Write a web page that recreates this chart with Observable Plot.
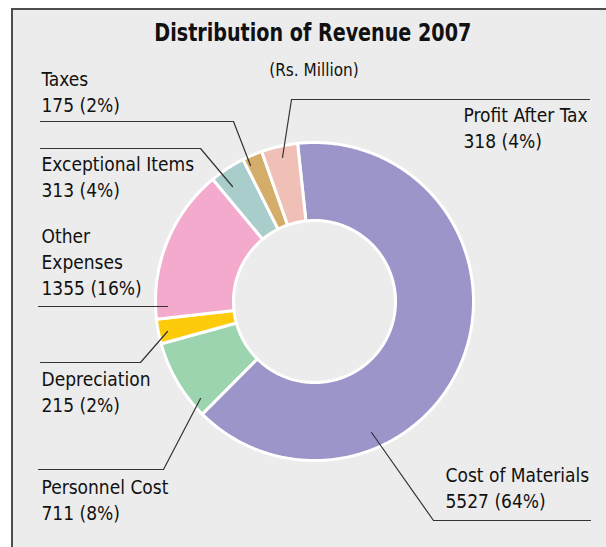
<!DOCTYPE html>
<html><head><meta charset="utf-8">
<script src="https://cdn.jsdelivr.net/npm/d3@7"></script>
<script src="https://cdn.jsdelivr.net/npm/@observablehq/plot@0.6"></script>
<style>
body{margin:0;background:#fff;width:606px;height:547px;overflow:hidden;position:relative;font-family:"Liberation Sans Narrow","Arial Narrow","DejaVu Sans Condensed",sans-serif;}
#frame{position:absolute;left:11px;top:8px;width:700px;height:700px;border:2px solid #4d4d4d;background:#ececec;box-sizing:border-box;}
#titlewrap{position:absolute;left:0;width:626px;top:21px;text-align:center;}
#title{display:inline-block;font-family:"DejaVu Sans Condensed","DejaVu Sans",sans-serif;font-weight:bold;font-size:24px;color:#111;line-height:1;transform-origin:50% 50%;}
#subtitle{position:absolute;left:0;width:628px;top:62px;text-align:center;font-size:17px;color:#111;line-height:1;}
#chart{position:absolute;left:0;top:0;}
</style>
</head><body>
<div id="frame"></div>
<div id="titlewrap"><span id="title">Distribution of Revenue 2007</span></div>
<div id="subtitle">(Rs. Million)</div>
<div id="chart"></div>
<script>
// ---- data ----
const categories = ["Cost of Materials","Personnel Cost","Depreciation","Other Expenses","Exceptional Items","Taxes","Profit After Tax"];
const values = [5527, 711, 215, 1355, 313, 175, 318];
const percents = [64, 8, 2, 16, 4, 2, 4];
const labelLines = ["Cost of Materials","Personnel Cost","Depreciation","Other\nExpenses","Exceptional Items","Taxes","Profit After Tax"];
const colors = ["#9c95c9","#9dd4b0","#fdcb0a","#f4aacd","#a8cdca","#d5ad6a","#f0c0b6"];

// ---- layout (pixel space) ----
const cx = 314, cy = 301, R = 159, r0 = 81;
const startDeg = -6.1;
// label anchor (left, top of first line) in pixels
const labelPos = {
  "Cost of Materials": [445, 463],
  "Personnel Cost": [41, 475],
  "Depreciation": [41, 367],
  "Other Expenses": [41, 224],
  "Exceptional Items": [41, 152],
  "Taxes": [41, 67],
  "Profit After Tax": [463, 103]
};
const leaderPos = {
  "Cost of Materials": [[590,520],[433,520],[371,432]],
  "Personnel Cost": [[38,469],[163,469],[200,398]],
  "Depreciation": [[40,362],[140,362],[167,331]],
  "Other Expenses": [[38,306],[167,306]],
  "Exceptional Items": [[40,148],[200,148],[232,186]],
  "Taxes": [[40,121],[233,121],[250,165]],
  "Profit After Tax": [[589,99],[291,99],[282,157]]
};
const X = px => (px - cx) / R;
const Y = py => (cy - py) / R;

// ---- slices ----
const a0 = startDeg * Math.PI / 180;
const arcs = d3.pie().sort(null).value(d => d.value).startAngle(a0).endAngle(a0 + 2*Math.PI)(
  categories.map((c,i) => ({name:c, value:values[i]}))
);
const rin = r0 / R;
const poly = [];
for (const a of arcs) {
  const n = Math.max(2, Math.ceil((a.endAngle - a.startAngle) / 0.01));
  for (let k = 0; k <= n; k++) {
    const t = a.startAngle + (a.endAngle - a.startAngle) * k / n;
    poly.push({name:a.data.name, x:Math.sin(t), y:Math.cos(t)});
  }
  for (let k = n; k >= 0; k--) {
    const t = a.startAngle + (a.endAngle - a.startAngle) * k / n;
    poly.push({name:a.data.name, x:rin*Math.sin(t), y:rin*Math.cos(t)});
  }
}

const labels = categories.map((c,i) => ({
  name:c, x:X(labelPos[c][0]), y:Y(labelPos[c][1]),
  text: labelLines[i] + "\n" + values[i] + " (" + percents[i] + "%)"
}));
const leaders = [];
for (const c of categories) for (const p of leaderPos[c]) leaders.push({name:c, x:X(p[0]), y:Y(p[1])});

const font = '"Liberation Sans Narrow","Arial Narrow","DejaVu Sans Condensed",sans-serif';
const chart = Plot.plot({
  width: 606, height: 547,
  x: {domain:[-1,1], range:[cx-R, cx+R], axis:null},
  y: {domain:[-1,1], range:[cy+R, cy-R], axis:null},
  color: {domain: categories, range: colors},
  style: {background:"transparent", fontFamily: font, overflow:"visible"},
  marks: [
    Plot.line(poly, {x:"x", y:"y", z:"name", fill:"name", stroke:"white", strokeWidth:3, curve:"linear-closed", strokeLinejoin:"miter"}),
    Plot.line(leaders, {x:"x", y:"y", z:"name", stroke:"#333", strokeWidth:1.2}),
    Plot.text(labels, {x:"x", y:"y", text:"text", textAnchor:"start", lineAnchor:"top", fontSize:19, lineHeight:1.37, fill:"#111", fontFamily: font})
  ]
});
document.getElementById("chart").append(chart);

// fit title width to the reference (~317px)
const t = document.getElementById("title");
const w = t.getBoundingClientRect().width;
t.style.transform = "scaleX(" + (317 / w) + ")";
</script>
</body></html>
